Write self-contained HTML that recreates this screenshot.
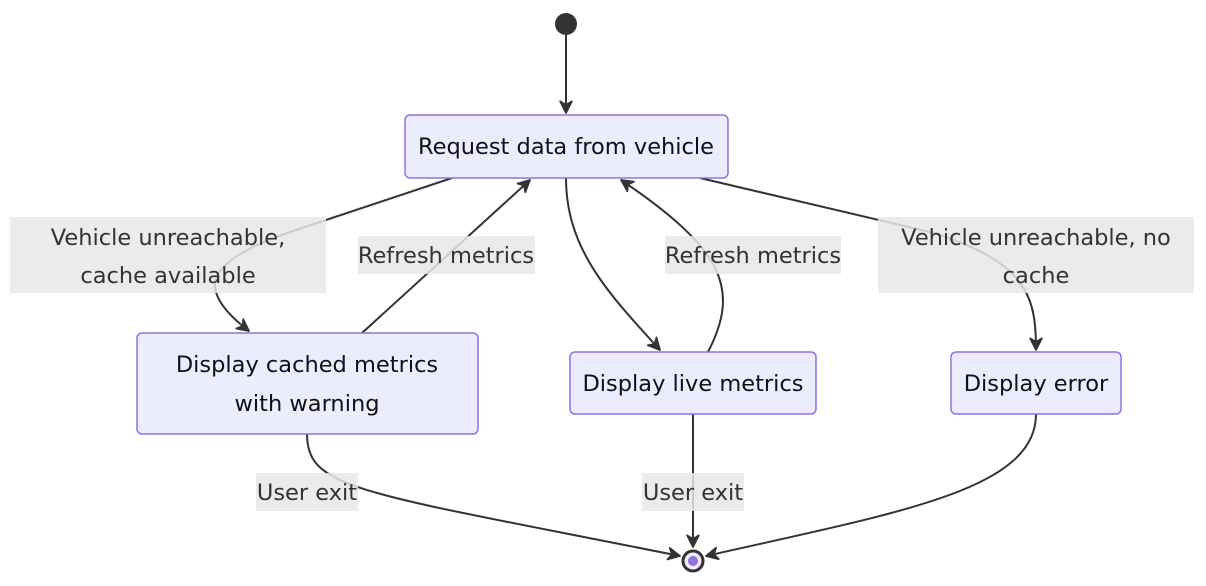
<!DOCTYPE html>
<html><head><meta charset="utf-8"><style>
html,body{margin:0;padding:0;background:#fff;}
svg{display:block;font-family:"DejaVu Sans","Liberation Sans",sans-serif;}
</style></head><body>
<svg width="1206" height="586" viewBox="0 0 1206 586" xmlns="http://www.w3.org/2000/svg">
<defs>
<marker id="a" viewBox="0 0 12 12" refX="11" refY="6" markerWidth="14" markerHeight="14" orient="auto" markerUnits="userSpaceOnUse">
<path d="M1,1 L11,6 L1,11 L4,6 Z" fill="#333" stroke="#333" stroke-width="1.5" stroke-linejoin="round"/>
</marker>
</defs>
<g fill="none" stroke="#333" stroke-width="2">
<path d="M566,35 L566,113" marker-end="url(#a)"/>
<path d="M452,178 L290,232 Q215,258 215,285 Q215,305 249,331" marker-end="url(#a)"/>
<path d="M362,333 L530,180" marker-end="url(#a)"/>
<path d="M566,178 C566,250 610,295 660,350" marker-end="url(#a)"/>
<path d="M708,352 C740,290 725,250 621,180" marker-end="url(#a)"/>
<path d="M700,178 L930,232 C1030,262 1036,300 1036,350" marker-end="url(#a)"/>
<path d="M307,434 C307,490 360,492 680,556" marker-end="url(#a)"/>
<path d="M693,414 L693,547" marker-end="url(#a)"/>
<path d="M1036,414 C1036,490 900,512 706,556" marker-end="url(#a)"/>
</g>
<circle cx="566" cy="24" r="11" fill="#333"/>
<circle cx="693" cy="561" r="10" fill="#ECECFF" stroke="#333" stroke-width="3"/>
<circle cx="693" cy="561" r="5" fill="#9370DB"/>
<g fill="#ECECFF" stroke="#9370DB" stroke-width="1.5">
<rect x="405" y="115" width="323" height="63" rx="5"/>
<rect x="137" y="333" width="341" height="101" rx="5"/>
<rect x="570" y="352" width="246" height="62" rx="5"/>
<rect x="951" y="352" width="170" height="62" rx="5"/>
</g>
<g fill="rgba(232,232,232,0.85)">
<rect x="10" y="217" width="316" height="76"/>
<rect x="358" y="236" width="177" height="38"/>
<rect x="665" y="236" width="176" height="38"/>
<rect x="878" y="217" width="316" height="76"/>
<rect x="256" y="473" width="102" height="38"/>
<rect x="642" y="473" width="102" height="38"/>
</g>
<g font-size="22.5" text-anchor="middle" fill="#111">
<text x="566" y="154">Request data from vehicle</text>
<text x="307" y="372">Display cached metrics</text>
<text x="307" y="411">with warning</text>
<text x="693" y="391">Display live metrics</text>
<text x="1036" y="391">Display error</text>
</g>
<g font-size="22.5" text-anchor="middle" fill="#333">
<text x="168" y="245">Vehicle unreachable,</text>
<text x="168" y="283">cache available</text>
<text x="446" y="263">Refresh metrics</text>
<text x="753" y="263">Refresh metrics</text>
<text x="1036" y="245">Vehicle unreachable, no</text>
<text x="1036" y="283">cache</text>
<text x="307" y="500">User exit</text>
<text x="693" y="500">User exit</text>
</g>
</svg>
</body></html>
